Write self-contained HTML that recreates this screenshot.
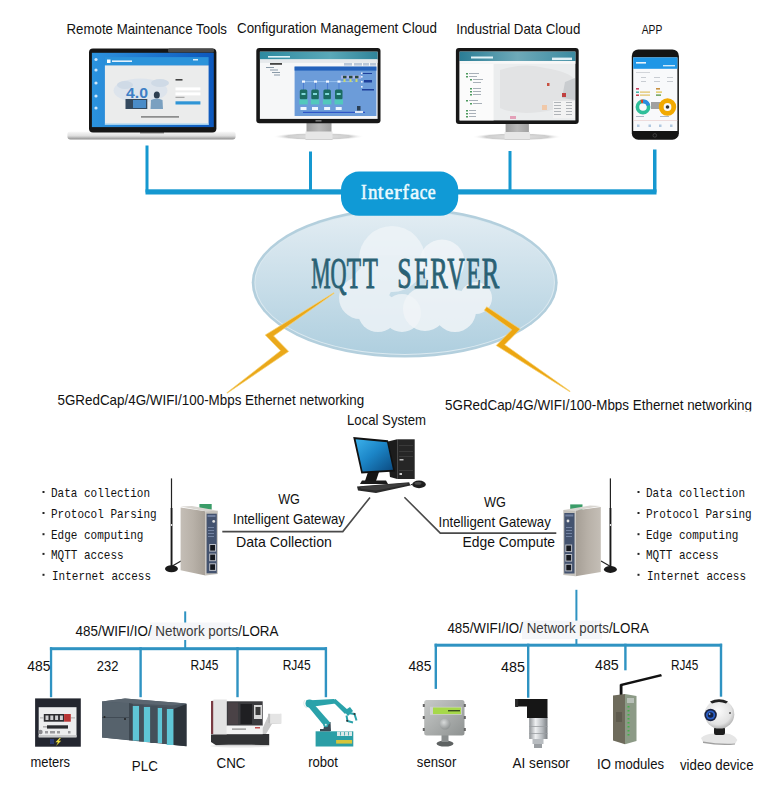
<!DOCTYPE html>
<html><head><meta charset="utf-8">
<style>
html,body{margin:0;padding:0;background:#fff;}
body{width:781px;height:785px;overflow:hidden;position:relative;font-family:"Liberation Sans",sans-serif;}
svg{position:absolute;left:0;top:0;}
.t{font-family:"Liberation Sans",sans-serif;fill:#111;}
.m{font-family:"Liberation Mono",monospace;fill:#111;}
.s{font-family:"Liberation Serif",serif;}
</style></head>
<body>
<svg width="781" height="785" viewBox="0 0 781 785">
<defs>
  <linearGradient id="ellG" x1="0" y1="0" x2="0" y2="1">
    <stop offset="0" stop-color="#e3edf3"/>
    <stop offset="0.5" stop-color="#c9dee9"/>
    <stop offset="1" stop-color="#afcfdf"/>
  </linearGradient>
  <linearGradient id="boltG" x1="0" y1="0" x2="1" y2="1">
    <stop offset="0" stop-color="#f0c060"/>
    <stop offset="1" stop-color="#e39d12"/>
  </linearGradient>

  <linearGradient id="lapScr" x1="0" y1="0" x2="1" y2="0">
    <stop offset="0" stop-color="#2a93de"/>
    <stop offset="0.15" stop-color="#2a8ad8"/>
    <stop offset="1" stop-color="#0d58bd"/>
  </linearGradient>
  <linearGradient id="silver" x1="0" y1="0" x2="0" y2="1">
    <stop offset="0" stop-color="#fafafa"/>
    <stop offset="0.55" stop-color="#dedede"/>
    <stop offset="1" stop-color="#8e8e8e"/>
  </linearGradient>
  <linearGradient id="silverH" x1="0" y1="0" x2="1" y2="0">
    <stop offset="0" stop-color="#bdbdbd"/>
    <stop offset="0.5" stop-color="#ececec"/>
    <stop offset="1" stop-color="#b5b5b5"/>
  </linearGradient>
  <linearGradient id="teal1" x1="0" y1="0" x2="1" y2="0">
    <stop offset="0" stop-color="#2d8aa0"/>
    <stop offset="0.6" stop-color="#5aa8b8"/>
    <stop offset="1" stop-color="#2f8399"/>
  </linearGradient>
  <linearGradient id="teal2" x1="0" y1="0" x2="1" y2="0">
    <stop offset="0" stop-color="#2a7d95"/>
    <stop offset="0.5" stop-color="#6ea9b8"/>
    <stop offset="1" stop-color="#3a8aa0"/>
  </linearGradient>
  <radialGradient id="standSh" cx="0.5" cy="0.5" r="0.5">
    <stop offset="0" stop-color="#e4e4e4"/>
    <stop offset="0.7" stop-color="#cdcdcd"/>
    <stop offset="1" stop-color="#ffffff" stop-opacity="0"/>
  </radialGradient>
  <linearGradient id="neckG" x1="0" y1="0" x2="1" y2="0">
    <stop offset="0" stop-color="#9c9c9c"/>
    <stop offset="0.5" stop-color="#b8b8b8"/>
    <stop offset="1" stop-color="#a0a0a0"/>
  </linearGradient>

  <linearGradient id="pcScr" x1="0" y1="0" x2="1" y2="1">
    <stop offset="0" stop-color="#3bb0ea"/>
    <stop offset="0.45" stop-color="#1c86c8"/>
    <stop offset="1" stop-color="#0b4a80"/>
  </linearGradient>
  <linearGradient id="gwSide" x1="0" y1="0" x2="1" y2="0">
    <stop offset="0" stop-color="#c4beb6"/>
    <stop offset="0.5" stop-color="#b8b1a8"/>
    <stop offset="1" stop-color="#a59e95"/>
  </linearGradient>
  <linearGradient id="gwSideR" x1="1" y1="0" x2="0" y2="0">
    <stop offset="0" stop-color="#c4beb6"/>
    <stop offset="0.5" stop-color="#b8b1a8"/>
    <stop offset="1" stop-color="#a59e95"/>
  </linearGradient>
  <linearGradient id="sensG" x1="0" y1="0" x2="1" y2="1">
    <stop offset="0" stop-color="#c8cac9"/>
    <stop offset="1" stop-color="#8e9291"/>
  </linearGradient>
  <radialGradient id="knobG" cx="0.4" cy="0.35" r="0.7">
    <stop offset="0" stop-color="#d8dada"/>
    <stop offset="1" stop-color="#8a8e8e"/>
  </radialGradient>
  <radialGradient id="camG" cx="0.45" cy="0.4" r="0.65">
    <stop offset="0" stop-color="#fbfbfb"/>
    <stop offset="0.7" stop-color="#e2e2e2"/>
    <stop offset="1" stop-color="#a8a8a8"/>
  </radialGradient>
  <linearGradient id="aiG" x1="0" y1="0" x2="1" y2="0">
    <stop offset="0" stop-color="#8e9296"/>
    <stop offset="0.35" stop-color="#eef0f2"/>
    <stop offset="0.7" stop-color="#b8bcc0"/>
    <stop offset="1" stop-color="#7c8084"/>
  </linearGradient>
</defs>

<!-- ===== TOP LABELS ===== -->
<text class="t" x="66.5" y="33.9" font-size="14.8" textLength="160.5" lengthAdjust="spacingAndGlyphs">Remote Maintenance Tools</text>
<text class="t" x="237" y="32.5" font-size="14.8" textLength="200" lengthAdjust="spacingAndGlyphs">Configuration Management Cloud</text>
<text class="t" x="456.2" y="34.2" font-size="14.8" textLength="124.2" lengthAdjust="spacingAndGlyphs">Industrial Data Cloud</text>
<text class="t" x="641.7" y="33.7" font-size="12.6" textLength="20.6" lengthAdjust="spacingAndGlyphs">APP</text>


<!-- ===== LAPTOP ===== -->
<g>
  <rect x="67.4" y="131.5" width="168.2" height="8" rx="3" fill="url(#silver)"/>
  <rect x="140" y="131.5" width="24" height="2" fill="#8a8a8a"/>
  <rect x="89" y="48.4" width="127.4" height="84" rx="4" fill="#151515"/>
  <rect x="168" y="48.6" width="46" height="4" rx="1.5" fill="#4a4a4a"/>
  <rect x="91.9" y="52.8" width="121.9" height="74.3" fill="url(#lapScr)"/>
  <rect x="104.9" y="57.1" width="103.7" height="8.3" fill="#2b93da"/>
  <rect x="104.9" y="65.4" width="103.7" height="59.5" fill="#ebecec"/>
  <rect x="104.9" y="123.5" width="103.7" height="1.4" fill="#9fd0f0"/>
  <g fill="#dde4ec"><ellipse cx="140.5" cy="90.5" rx="27" ry="12"/></g>
  <g fill="#cfdae6"><ellipse cx="125" cy="85" rx="8" ry="4"/><ellipse cx="160" cy="83" rx="9" ry="4"/></g>
  <text x="126" y="97.5" font-family="Liberation Sans" font-weight="bold" font-size="14" fill="#3d7fc6" textLength="22" lengthAdjust="spacingAndGlyphs">4.0</text>
  <rect x="125.5" y="99" width="21.8" height="10" fill="#34495e"/>
  <rect x="133" y="100" width="13" height="8" fill="#4a8cc8"/>
  <ellipse cx="156.8" cy="95" rx="3" ry="3.5" fill="#2c3e50"/>
  <path d="M150.5,109 L151,100 Q156.8,97 162.5,100 L163,109 Z" fill="#7aa0c0"/>
  <rect x="175.5" y="79" width="7" height="1.6" fill="#444"/>
  <rect x="175.5" y="87.4" width="24.9" height="3" fill="#ffffff"/>
  <rect x="175.5" y="92.4" width="24.9" height="3" fill="#ffffff"/>
  <rect x="175.5" y="96.8" width="9" height="1" fill="#999"/>
  <rect x="175.5" y="101.3" width="24.9" height="3.2" fill="#2f95d6"/>
  <rect x="141" y="116.2" width="38" height="1.4" fill="#777"/>
  <rect x="107" y="59.5" width="3.5" height="3.5" fill="#fff"/>
  <rect x="112" y="60.4" width="20" height="1.6" fill="#e3f1fb"/>
  <rect x="193" y="59" width="5" height="1.5" fill="#dceefa"/>
  <g fill="#cfe6f8">
    <circle cx="96" cy="59.5" r="1.6"/><circle cx="96" cy="70" r="1.6"/><circle cx="96" cy="83" r="1.6"/><circle cx="96" cy="96" r="1.6"/><circle cx="96" cy="108" r="1.6"/>
  </g>
</g>

<!-- ===== MONITOR 1 (config) ===== -->
<g>
  <ellipse cx="318.5" cy="136.5" rx="46" ry="3.8" fill="url(#standSh)"/>
  <rect x="306.5" y="123" width="25" height="9" fill="url(#neckG)"/>
  <rect x="305.5" y="131.5" width="27" height="8.5" fill="#e6e6e6"/>
  <rect x="305.5" y="139" width="27" height="1" fill="#cfcfcf"/>
  <rect x="256.3" y="48" width="124.2" height="75.3" rx="3" fill="#171717"/>
  <rect x="259.9" y="51.7" width="117.7" height="67.2" fill="#f6f7f8"/>
  <rect x="259.9" y="51.7" width="117.7" height="7.7" fill="url(#teal1)"/>
  <rect x="268" y="56" width="22" height="1.6" fill="#dff3f8"/>
  <rect x="260" y="59.4" width="117.6" height="3.5" fill="#e6e9ec"/>
  <rect x="294.6" y="66.6" width="81.8" height="49.4" fill="#6c9cd9"/>
  <rect x="294.6" y="66.6" width="81.8" height="4" fill="#2462bb"/>
  <g fill="#b9c7d8"><rect x="344" y="63" width="8" height="2.6"/><rect x="354" y="63" width="8" height="2.6"/><rect x="363" y="63" width="6" height="2.6"/><rect x="370" y="63" width="6" height="2.6"/></g>
  <rect x="270" y="63" width="12" height="1.8" fill="#444"/>
  <g fill="#8a9aa8"><rect x="266" y="67" width="8" height="1"/><rect x="270" y="69.5" width="8" height="1"/><rect x="272" y="72" width="8" height="1"/><rect x="274" y="74.5" width="6" height="1"/></g>
  <rect x="303" y="81.2" width="50" height="0.9" fill="#9cc4f0"/>
  <g fill="#4a7ad0"><rect x="303" y="82" width="0.9" height="8"/><rect x="315" y="82" width="0.9" height="8"/><rect x="327" y="82" width="0.9" height="8"/><rect x="338.5" y="82" width="0.9" height="8"/></g>
  <g fill="#f4f8ff"><rect x="302" y="80.5" width="3" height="2.2"/><rect x="314" y="80.5" width="3" height="2.2"/><rect x="326" y="80.5" width="3" height="2.2"/><rect x="337.5" y="80.5" width="3" height="2.2"/></g>
  <rect x="303" y="111.8" width="62" height="1.2" fill="#2f55c8"/>
  <g fill="#1b6c62">
    <rect x="299.8" y="89.6" width="7.5" height="9.8" rx="1.5"/><rect x="311.3" y="89.6" width="7.5" height="9.8" rx="1.5"/><rect x="323.4" y="89.6" width="7.5" height="9.8" rx="1.5"/><rect x="335" y="89.6" width="7.5" height="9.8" rx="1.5"/>
  </g>
  <g fill="#7fd8d8"><rect x="301.5" y="93" width="4" height="2"/><rect x="313" y="93" width="4" height="2"/><rect x="325.1" y="93" width="4" height="2"/><rect x="336.7" y="93" width="4" height="2"/></g>
  <g fill="#52c8bc">
    <rect x="299.3" y="99.4" width="8.5" height="5"/><rect x="310.8" y="99.4" width="8.5" height="5"/><rect x="322.9" y="99.4" width="8.5" height="5"/><rect x="334.5" y="99.4" width="8.5" height="5"/>
  </g>
  <g fill="#eef6ff">
    <rect x="300.5" y="107" width="6" height="3"/><rect x="312" y="107" width="6" height="3"/><rect x="324.1" y="107" width="6" height="3"/><rect x="335.7" y="107" width="6" height="3"/>
  </g>
  <rect x="341" y="75.5" width="20" height="3.2" fill="#a8b4e8"/>
  <g fill="#2c4a3c"><rect x="343" y="75.8" width="3.5" height="2.5"/><rect x="349" y="75.8" width="3.5" height="2.5"/><rect x="355" y="75.8" width="3.5" height="2.5"/></g>
  <g fill="#c8d870"><rect x="343.5" y="79" width="2" height="3"/><rect x="349.5" y="79" width="2" height="3"/><rect x="355.5" y="79" width="2" height="3"/></g>
  <g fill="#1d3f9a"><rect x="364" y="80" width="8" height="2.5"/><rect x="362" y="89" width="12" height="1.5"/><rect x="362" y="73" width="10" height="1"/></g>
  <g fill="#e8f0ff"><rect x="361" y="72.5" width="1.6" height="1.6"/><rect x="361" y="76" width="1.6" height="1.6"/><rect x="361" y="81" width="1.6" height="1.6"/><rect x="361" y="86" width="1.6" height="1.6"/></g>
  <rect x="357" y="106" width="3.5" height="4.5" fill="#2a3f55"/>
  <rect x="355" y="111" width="8" height="2" fill="#dde6f6"/>
  <rect x="315.5" y="120" width="6" height="1.6" fill="#777"/>
</g>

<!-- ===== MONITOR 2 (industrial) ===== -->
<g>
  <ellipse cx="517" cy="136.8" rx="45" ry="3.8" fill="url(#standSh)"/>
  <rect x="505.6" y="123.5" width="23.3" height="9" fill="url(#neckG)"/>
  <rect x="504.6" y="132" width="25.3" height="8" fill="#e6e6e6"/>
  <rect x="504.6" y="139" width="25.3" height="1" fill="#cfcfcf"/>
  <rect x="455.9" y="48" width="122.8" height="75.9" rx="3" fill="#171717"/>
  <rect x="459.6" y="51.6" width="115.8" height="68.8" fill="#ebedee"/>
  <rect x="459.6" y="51.6" width="115.8" height="9.4" fill="url(#teal2)"/>
  <rect x="471" y="56.5" width="22" height="2" fill="#e2f3f8"/>
  <rect x="552" y="57.6" width="20" height="2.5" fill="#e0f0f5"/>
  <rect x="459.6" y="61" width="115.8" height="2.8" fill="#f7f7f7"/>
  <rect x="459.6" y="63.8" width="34" height="56.6" fill="#fbfbfb"/>
  <g fill="#4d9a5e">
    <rect x="466" y="73" width="2" height="1.5"/><rect x="466" y="76" width="2" height="1.5"/><rect x="470" y="79" width="2" height="1.5"/><rect x="470" y="88" width="2" height="1.5"/><rect x="470" y="91" width="2" height="1.5"/><rect x="470" y="94" width="2" height="1.5"/><rect x="466" y="100" width="2" height="1.5"/><rect x="470" y="103" width="2" height="1.5"/><rect x="466" y="110" width="2" height="1.5"/><rect x="466" y="113" width="2" height="1.5"/><rect x="466" y="116" width="2" height="1.5"/>
  </g>
  <g fill="#a8b0b8">
    <rect x="469" y="73" width="10" height="1"/><rect x="469" y="76" width="8" height="1"/><rect x="473" y="79" width="10" height="1"/><rect x="473" y="82" width="8" height="1"/><rect x="473" y="88" width="8" height="1"/><rect x="473" y="91" width="8" height="1"/><rect x="473" y="94" width="8" height="1"/><rect x="469" y="100" width="9" height="1"/><rect x="473" y="103" width="9" height="1"/><rect x="469" y="110" width="7" height="1"/><rect x="469" y="113" width="7" height="1"/><rect x="469" y="116" width="7" height="1"/>
  </g>
  <path d="M500,70 Q525,62 545,68 Q570,72 575,80 L575,100 Q560,110 540,112 Q515,115 500,108 Z" fill="#e2e3e4"/>
  <path d="M565,82 L575,78 L575,100 L562,98 Z" fill="#c9cccf"/>
  <rect x="547" y="83" width="2.5" height="3" fill="#c85040"/>
  <rect x="562" y="93" width="4" height="4" fill="#c04040"/>
  <rect x="553" y="101" width="22" height="17" fill="#f3f3f3"/>
  <g fill="#b0b4b8"><rect x="554" y="102" width="7" height="1"/><rect x="566" y="102" width="6" height="1"/><rect x="554" y="105" width="7" height="1"/><rect x="566" y="105" width="6" height="1"/><rect x="554" y="108" width="7" height="1"/><rect x="566" y="108" width="6" height="1"/><rect x="554" y="111" width="7" height="1"/><rect x="566" y="111" width="6" height="1"/><rect x="554" y="114" width="7" height="1"/><rect x="566" y="114" width="6" height="1"/></g>
  <rect x="510" y="116" width="6" height="3" fill="#e3a0b8"/>
  <rect x="542" y="105" width="5" height="5" fill="#f0c8a8"/>
</g>

<!-- ===== PHONE ===== -->
<g>
  <rect x="631.8" y="49.4" width="47.1" height="90.3" rx="6.5" fill="#141414"/>
  <rect x="633.2" y="57.4" width="44.2" height="73.6" fill="#f8f9fb"/>
  <rect x="633.2" y="57.4" width="44.2" height="11.4" fill="#1f96e6"/>
  <rect x="636" y="62" width="10" height="1.6" fill="#e8f4fc"/>
  <rect x="663" y="65" width="12" height="1.4" fill="#cfe8f8"/>
  <g fill="#c8ccd2"><rect x="636" y="72" width="14" height="0.8"/><rect x="641" y="77" width="5" height="1"/><rect x="654" y="77" width="6" height="1"/><rect x="667" y="77" width="6" height="1"/><rect x="641" y="81" width="5" height="1"/><rect x="654" y="81" width="6" height="1"/><rect x="667" y="81" width="6" height="1"/></g>
  <g><rect x="636" y="88" width="3" height="1.6" fill="#c84060"/><rect x="656" y="88" width="4" height="1.6" fill="#c89040"/>
  <rect x="636" y="91.5" width="3" height="1.4" fill="#30b0a0"/><rect x="640" y="91.5" width="10" height="1.2" fill="#e0c060"/><rect x="656" y="91.5" width="6" height="1.2" fill="#e0c040"/>
  <rect x="636" y="94.5" width="3" height="1.4" fill="#c03040"/><rect x="640" y="94.5" width="10" height="1.2" fill="#e0c060"/><rect x="656" y="94.5" width="5" height="1.2" fill="#4a8a30"/></g>
  <circle cx="643" cy="107" r="5.6" fill="none" stroke="#2fbf9a" stroke-width="3.6"/>
  <path d="M643,101.4 A5.6,5.6 0 0 1 648.4,105.5" fill="none" stroke="#2a8de0" stroke-width="3.6"/>
  <path d="M641,101.6 A5.6,5.6 0 0 1 643,101.4" fill="none" stroke="#e04020" stroke-width="3.6"/>
  <rect x="651" y="102" width="10" height="7" fill="#8a8a8a" opacity="0.8"/>
  <circle cx="667.5" cy="107" r="6.3" fill="none" stroke="#f2a900" stroke-width="4.8"/>
  <circle cx="667.5" cy="107" r="1.8" fill="#333"/>
  <g fill="#9aa8b8"><rect x="636" y="116" width="8" height="0.8"/><rect x="660" y="116" width="9" height="0.8"/></g>
  <rect x="633.2" y="120" width="44.2" height="0.6" fill="#e8c8c8"/>
  <g fill="#b0c8e0"><rect x="637" y="124.5" width="2.5" height="2.5"/><rect x="648.5" y="124.5" width="2.5" height="2.5"/><rect x="659" y="124.5" width="2.5" height="2.5"/><rect x="670" y="124.5" width="2.5" height="2.5"/></g>
  <circle cx="654.8" cy="135.4" r="1.8" fill="none" stroke="#555" stroke-width="0.6"/>
</g>

<!-- ===== TOP CONNECTOR LINES ===== -->
<g fill="#1598d0">
  <rect x="145.5" y="145.5" width="3" height="47"/>
  <rect x="309" y="151.5" width="3" height="41"/>
  <rect x="508.5" y="151" width="3" height="41"/>
  <rect x="653" y="149.5" width="3.5" height="43"/>
  <rect x="145.5" y="189.3" width="511" height="5.2"/>
</g>

<!-- ===== MQTT ELLIPSE ===== -->
<ellipse cx="404.7" cy="282.6" rx="153" ry="75" fill="#b3cfdd"/>
<ellipse cx="404.7" cy="282.6" rx="150.3" ry="72.3" fill="#dbe9f0"/>
<ellipse cx="404.7" cy="282.6" rx="149.3" ry="71.3" fill="url(#ellG)"/>

<!-- ===== INTERFACE PILL ===== -->
<rect x="341" y="171.6" width="117.2" height="44.2" rx="18" fill="#109ad6"/>

<!-- ===== CLOUDS ===== -->
<g fill="#edf3f7" opacity="0.85">
  <circle cx="392" cy="259" r="33"/>
  <circle cx="360" cy="298" r="21"/>
  <circle cx="378" cy="312" r="20"/>
  <circle cx="402" cy="313" r="19"/>
  <circle cx="372" cy="285" r="20"/>
</g>
<g fill="#f1f5f8" opacity="0.85">
  <circle cx="442" cy="262" r="22.5"/>
  <circle cx="425" cy="309" r="22"/>
  <circle cx="455" cy="311" r="21"/>
  <circle cx="476" cy="298" r="16"/>
  <circle cx="440" cy="290" r="16"/>
</g>
<g class="s" font-size="45" fill="#2a6174" stroke="#2a6174" stroke-width="1"><text x="311.3" y="287.8" textLength="19.4" lengthAdjust="spacingAndGlyphs">M</text><text x="330.6" y="287.8" textLength="16.0" lengthAdjust="spacingAndGlyphs">Q</text><text x="346.8" y="287.8" textLength="14.3" lengthAdjust="spacingAndGlyphs">T</text><text x="362.7" y="287.8" textLength="15.1" lengthAdjust="spacingAndGlyphs">T</text><text x="397.3" y="287.8" textLength="14.5" lengthAdjust="spacingAndGlyphs">S</text><text x="414.2" y="287.8" textLength="14.5" lengthAdjust="spacingAndGlyphs">E</text><text x="430.3" y="287.8" textLength="17.5" lengthAdjust="spacingAndGlyphs">R</text><text x="447.2" y="287.8" textLength="17.5" lengthAdjust="spacingAndGlyphs">V</text><text x="466.3" y="287.8" textLength="14.5" lengthAdjust="spacingAndGlyphs">E</text><text x="481.7" y="287.8" textLength="17.5" lengthAdjust="spacingAndGlyphs">R</text></g>
<g class="s" font-size="20.5" fill="#eafaff" stroke="#eafaff" stroke-width="0.55"><text x="361.0" y="199.3" textLength="5.7" lengthAdjust="spacingAndGlyphs">I</text><text x="367.9" y="199.3" textLength="9.5" lengthAdjust="spacingAndGlyphs">n</text><text x="377.7" y="199.3" textLength="5.7" lengthAdjust="spacingAndGlyphs">t</text><text x="384.8" y="199.3" textLength="8.6" lengthAdjust="spacingAndGlyphs">e</text><text x="393.9" y="199.3" textLength="7.6" lengthAdjust="spacingAndGlyphs">r</text><text x="402.5" y="199.3" textLength="6.4" lengthAdjust="spacingAndGlyphs">f</text><text x="410.1" y="199.3" textLength="9.4" lengthAdjust="spacingAndGlyphs">a</text><text x="419.8" y="199.3" textLength="7.6" lengthAdjust="spacingAndGlyphs">c</text><text x="427.8" y="199.3" textLength="7.9" lengthAdjust="spacingAndGlyphs">e</text></g>

<!-- ===== BOLTS ===== -->
<polygon points="333.8,292.7 265.2,335.0 280.5,350.7 226.8,392.8 227.2,393.2 288.7,351.4 273.6,335.9 334.2,293.3" fill="#eaa81a" stroke="#f6d47a" stroke-width="0.7" stroke-linejoin="miter"/>
<polygon points="484.3,310.2 511.8,329.8 496.2,345.5 569.8,391.7 570.2,391.3 504.7,344.7 520.2,329.1 486.7,306.8" fill="#eca612" stroke="#f6d47a" stroke-width="0.7" stroke-linejoin="miter"/>

<!-- ===== MID TEXT ===== -->
<text class="t" x="57.5" y="405.2" font-size="14.1" textLength="306.7" lengthAdjust="spacingAndGlyphs">5GRedCap/4G/WIFI/100-Mbps Ethernet networking</text>
<svg x="0" y="0" width="781" height="411.5" overflow="hidden"><text class="t" x="445" y="410" font-size="14.1" textLength="307" lengthAdjust="spacingAndGlyphs">5GRedCap/4G/WIFI/100-Mbps Ethernet networking</text></svg>
<text class="t" x="347" y="424.8" font-size="14.1" textLength="79" lengthAdjust="spacingAndGlyphs">Local System</text>

<text class="t" x="278.2" y="503.9" font-size="14.1" textLength="21.7" lengthAdjust="spacingAndGlyphs">WG</text>
<text class="t" x="233" y="523.6" font-size="14.1" textLength="111.8" lengthAdjust="spacingAndGlyphs">Intelligent Gateway</text>
<text class="t" x="236" y="546.6" font-size="14.1" textLength="95.9" lengthAdjust="spacingAndGlyphs">Data Collection</text>
<text class="t" x="484.1" y="507.1" font-size="14.1" textLength="21.9" lengthAdjust="spacingAndGlyphs">WG</text>
<text class="t" x="438.6" y="527.2" font-size="14.1" textLength="112.2" lengthAdjust="spacingAndGlyphs">Intelligent Gateway</text>
<text class="t" x="462.5" y="546.8" font-size="14.1" textLength="92.6" lengthAdjust="spacingAndGlyphs">Edge Compute</text>

<!-- gateway connection lines -->
<polyline points="222.3,531.6 342.8,531.6 370,497.4" fill="none" stroke="#4a4a4a" stroke-width="1.6"/>
<polyline points="404.4,497.2 440.3,533.1 556.3,533.1" fill="none" stroke="#4a4a4a" stroke-width="1.6"/>

<!-- ===== BULLET LISTS ===== -->
<g class="m" font-size="13">
  <text class="m" x="51" y="497" textLength="99" lengthAdjust="spacingAndGlyphs">Data collection</text>
  <text class="m" x="51" y="518" textLength="105.6" lengthAdjust="spacingAndGlyphs">Protocol Parsing</text>
  <text class="m" x="51" y="539.2" textLength="92.4" lengthAdjust="spacingAndGlyphs">Edge computing</text>
  <text class="m" x="51" y="558.9" textLength="72.6" lengthAdjust="spacingAndGlyphs">MQTT access</text>
  <text class="m" x="52" y="579.8" textLength="99" lengthAdjust="spacingAndGlyphs">Internet access</text>
  <text class="m" x="646" y="497" textLength="99" lengthAdjust="spacingAndGlyphs">Data collection</text>
  <text class="m" x="646" y="518" textLength="105.6" lengthAdjust="spacingAndGlyphs">Protocol Parsing</text>
  <text class="m" x="646" y="539.2" textLength="92.4" lengthAdjust="spacingAndGlyphs">Edge computing</text>
  <text class="m" x="646" y="558.9" textLength="72.6" lengthAdjust="spacingAndGlyphs">MQTT access</text>
  <text class="m" x="647" y="579.8" textLength="99" lengthAdjust="spacingAndGlyphs">Internet access</text>
</g>
<g fill="#222">
  <rect x="42.5" y="491.0" width="2" height="2"/>
  <rect x="42.5" y="512.0" width="2" height="2"/>
  <rect x="42.5" y="533.2" width="2" height="2"/>
  <rect x="42.5" y="552.9" width="2" height="2"/>
  <rect x="42.5" y="573.8" width="2" height="2"/>
  <rect x="637.5" y="491.0" width="2" height="2"/>
  <rect x="637.5" y="512.0" width="2" height="2"/>
  <rect x="637.5" y="533.2" width="2" height="2"/>
  <rect x="637.5" y="552.9" width="2" height="2"/>
  <rect x="637.5" y="573.8" width="2" height="2"/>
</g>


<!-- ===== LOCAL SYSTEM PC ===== -->
<g>
  <polygon points="386,442 397.2,439.3 397.2,479 390,477" fill="#1c1c1c"/>
  <rect x="397.2" y="439.3" width="17.5" height="39.7" fill="#262626"/>
  <g fill="#3a3a3a"><rect x="399" y="445" width="14" height="1"/><rect x="399" y="451" width="14" height="1"/><rect x="399" y="456" width="14" height="1"/><rect x="399" y="470" width="14" height="1"/></g>
  <rect x="399.5" y="459" width="4" height="1.5" fill="#bbb"/>
  <rect x="399.5" y="473" width="2.5" height="2" fill="#ccc"/>
  <polygon points="368,472 379,472 376,481 365,481" fill="#151515"/>
  <polygon points="362,480.5 386,480.5 388,484 360,484" fill="#1a1a1a"/>
  <polygon points="353.2,437.1 388,440.3 395.1,471.4 361.3,473.5" fill="#111"/>
  <polygon points="355.6,439.3 387,442.2 393,469.8 362.6,471.5" fill="url(#pcScr)"/>
  <polygon points="357,486.6 409.2,482.2 410.3,485.5 376,493.1 358,490.5" fill="#2a2a2a"/>
  <polygon points="360,486.8 407,483 408,484.6 376,490.5 361,488.8" fill="#3d3d3d"/>
  <ellipse cx="419" cy="484.4" rx="6.8" ry="3.8" fill="#1e1e1e"/>
  <ellipse cx="418" cy="483.3" rx="3.5" ry="1.5" fill="#4a4a4a"/>
  <path d="M410.5,485 Q413,484 412.5,484" stroke="#222" fill="none" stroke-width="1"/>
</g>

<!-- ===== LEFT GATEWAY ===== -->
<g>
  <path d="M166,570 Q172,566 181,561" stroke="#222" stroke-width="1.2" fill="none"/>
  <ellipse cx="171.5" cy="568.8" rx="6.5" ry="3.5" fill="#1a1a1a"/>
  <rect x="170.9" y="478.4" width="1.2" height="30" fill="#222"/>
  <rect x="170.6" y="508" width="1.9" height="60" fill="#1a1a1a"/>
  <rect x="170.9" y="524" width="1.3" height="2" fill="#ddd"/>
  <polygon points="199.4,504 211.7,504 211.7,509.7 199.4,509.7" fill="#3a9c68"/>
  <polygon points="180.6,507.6 205.5,511.2 205.5,575.4 180.6,570.3" fill="url(#gwSide)"/>
  <polygon points="180.6,506.5 192,506 217.8,510.7 205.5,511.2" fill="#d8d5d0"/>
  <polygon points="205.5,511.2 217.8,510.7 217.8,574 205.5,575.4" fill="#c5c2bc"/>
  <rect x="206.6" y="513.7" width="10.2" height="59.6" fill="#44536f"/>
  <rect x="207.5" y="515" width="8" height="2" fill="#7080a0"/>
  <circle cx="213.7" cy="521.4" r="1.4" fill="#e0e0e0"/>
  <g fill="#8090b0"><rect x="208" y="527" width="6" height="0.8"/><rect x="208" y="530" width="6" height="0.8"/><rect x="208" y="533" width="6" height="0.8"/><rect x="208" y="536" width="6" height="0.8"/></g>
  <g fill="#b8bcc4"><rect x="209.2" y="544" width="6.8" height="7.6"/><rect x="209.2" y="553.6" width="6.8" height="7.6"/><rect x="209.2" y="563.3" width="6.8" height="7.6"/></g>
  <g fill="#15181e"><rect x="210.2" y="545" width="4.8" height="5.6"/><rect x="210.2" y="554.6" width="4.8" height="5.6"/><rect x="210.2" y="564.3" width="4.8" height="5.6"/></g>
</g>

<!-- ===== RIGHT GATEWAY ===== -->
<g>
  <path d="M616,570 Q610,566 601,561" stroke="#222" stroke-width="1.2" fill="none"/>
  <ellipse cx="610.4" cy="569.4" rx="6.5" ry="3.5" fill="#1a1a1a"/>
  <rect x="609.8" y="478.4" width="1.2" height="30" fill="#222"/>
  <rect x="609.5" y="508" width="1.9" height="60" fill="#1a1a1a"/>
  <rect x="609.8" y="524" width="1.3" height="2" fill="#ddd"/>
  <polygon points="570.2,504.4 582.5,504.4 582.5,509.8 570.2,509.8" fill="#3a9c68"/>
  <polygon points="575.6,510.5 600.8,506.9 600.8,572 575.6,576.3" fill="url(#gwSideR)"/>
  <polygon points="563.3,510 590,505.5 600.8,506 575.6,510.5" fill="#d8d5d0"/>
  <polygon points="563.3,510 575.6,510.5 575.6,576.3 563.3,575" fill="#c5c2bc"/>
  <rect x="564.3" y="513" width="10.2" height="60.5" fill="#44536f"/>
  <rect x="565.3" y="514.5" width="8" height="2" fill="#7080a0"/>
  <circle cx="568" cy="521" r="1.4" fill="#e0e0e0"/>
  <g fill="#8090b0"><rect x="566" y="527" width="6" height="0.8"/><rect x="566" y="530" width="6" height="0.8"/><rect x="566" y="533" width="6" height="0.8"/><rect x="566" y="536" width="6" height="0.8"/></g>
  <g fill="#b8bcc4"><rect x="565.3" y="544.5" width="6.8" height="7.6"/><rect x="565.3" y="554" width="6.8" height="7.6"/><rect x="565.3" y="563.8" width="6.8" height="7.6"/></g>
  <g fill="#15181e"><rect x="566.3" y="545.5" width="4.8" height="5.6"/><rect x="566.3" y="555" width="4.8" height="5.6"/><rect x="566.3" y="564.8" width="4.8" height="5.6"/></g>
</g>

<!-- ===== METER ===== -->
<g>
  <rect x="35.1" y="698.4" width="45.7" height="48.3" fill="#23262f"/>
  <rect x="38.7" y="707.2" width="37.8" height="30.1" fill="#ecedee"/>
  <rect x="38.7" y="735" width="37.8" height="2.3" fill="#c8c9cb"/>
  <rect x="43.8" y="714" width="20.3" height="7.7" fill="#2c2c30"/>
  <rect x="64.1" y="714" width="6.7" height="7.7" fill="#b83434"/>
  <g fill="#cfcfd2"><rect x="45.5" y="715.5" width="3" height="4.5"/><rect x="50.3" y="715.5" width="3" height="4.5"/><rect x="55.1" y="715.5" width="3" height="4.5"/><rect x="59.9" y="715.5" width="3" height="4.5"/></g>
  <rect x="40" y="717.5" width="3.5" height="0.8" fill="#999"/>
  <rect x="71" y="717.5" width="4" height="0.8" fill="#999"/>
  <rect x="47" y="725.3" width="21" height="3.3" fill="#2a2c30"/>
  <rect x="43" y="726.5" width="4" height="0.8" fill="#777"/>
  <circle cx="40.5" cy="732" r="2.2" fill="#8a8a8e"/>
  <g fill="#9a9a9e"><rect x="45" y="731" width="3" height="2.5"/><rect x="50" y="731" width="5" height="2.5"/><rect x="57" y="731" width="3" height="2.5"/><rect x="68" y="731" width="2.5" height="2.5"/></g>
  <rect x="50" y="739" width="4" height="5" fill="#2a3a70"/>
  <polygon points="59.5,738 55.5,742.2 58,742.2 56,746 61.2,740.8 58.6,740.8 61,738" fill="#f0e040"/>
</g>

<!-- ===== PLC ===== -->
<g>
  <polygon points="102,701.5 125,698.5 186.5,703.5 186.5,746.3 102,737.4" fill="#4b5660"/>
  <polygon points="102,701.5 125,698.5 186.5,703.5 172,705.5 130,703.5" fill="#5b6670"/>
  <polygon points="102,701.5 129,703 129,740 102,737.4" fill="#56626c"/>
  <polygon points="129,703 132.8,704 132.8,740.6 129,740.2" fill="#3d4750"/>
  <polygon points="173.4,709 186.5,704 186.5,746.3 173.4,745" fill="#2c333a"/>
  <rect x="102" y="717" width="27" height="0.8" fill="#3d4750"/>
  <circle cx="104.5" cy="717" r="1" fill="#222"/>
  <circle cx="125" cy="719" r="1" fill="#222"/>
  <g fill="#5fc6d6">
    <rect x="132.8" y="706" width="6.4" height="34.6"/>
    <rect x="143.7" y="707" width="6.6" height="35"/>
    <rect x="157.5" y="708" width="4.7" height="35"/>
    <rect x="166.7" y="709" width="6.7" height="36"/>
  </g>
  <g fill="#44505a"><rect x="139.2" y="705" width="4.5" height="36.5"/><rect x="150.3" y="706" width="7.2" height="37"/><rect x="162.2" y="707" width="4.5" height="37"/></g>
</g>

<!-- ===== CNC ===== -->
<g>
  <polygon points="211,734 269.2,734 269.2,745.3 216,745.3 211,742" fill="#323335"/>
  <polygon points="211,701 214,699.6 226.8,699.6 226.8,734.4 211,734.4" fill="#e3e3e3"/>
  <rect x="211" y="701" width="2.2" height="33" fill="#7a3c44"/>
  <rect x="226.8" y="701.3" width="35.9" height="24.4" fill="#3b3b3e"/>
  <rect x="228" y="702.5" width="10" height="22" fill="#4a4246"/>
  <rect x="240.5" y="704" width="11.5" height="20" fill="#1f1f22"/>
  <rect x="254" y="705" width="8" height="14" fill="#d8d8d8"/>
  <rect x="255.5" y="707" width="5" height="8" fill="#3a3a3a"/>
  <rect x="226.8" y="725.7" width="35.9" height="8.5" fill="#f3f3f3"/>
  <rect x="232" y="728.5" width="14" height="1.2" fill="#888"/>
  <rect x="255" y="727" width="5" height="1.5" fill="#c05050"/>
  <polygon points="262.7,728 268.1,716 281.2,713.8 281.2,723.6 272,724 266,734 262.7,734" fill="#c8c8c8"/>
  <rect x="268.1" y="713.8" width="13.1" height="9.8" fill="#e4e4e4"/>
  <rect x="268.1" y="713.8" width="2" height="9.8" fill="#bcbcbc"/>
  <ellipse cx="240" cy="746" rx="30" ry="1.5" fill="#d8d8d8" opacity="0.6"/>
</g>

<!-- ===== ROBOT ===== -->
<g>
  <rect x="315.6" y="731.3" width="37.7" height="15.2" fill="#2b9ea6"/>
  <rect x="337" y="731.5" width="15" height="4.5" fill="#dde8e8"/>
  <g fill="#2b9ea6"><rect x="340" y="732" width="0.8" height="3.5"/><rect x="344" y="732" width="0.8" height="3.5"/><rect x="348" y="732" width="0.8" height="3.5"/></g>
  <rect x="336.1" y="740" width="16" height="3.6" fill="#d6c53a"/>
  <polygon points="320,729 330,729 330,731.3 320,731.3" fill="#3a4a55"/>
  <polygon points="323,731 331,731 330.5,722 325,722" fill="#3a4a55"/>
  <polygon points="306.5,704.5 312,702 330.5,723 325,727" fill="#2aa2aa"/>
  <polygon points="306,700.5 334,699 335.5,703.5 310,707" fill="#2aa2aa"/>
  <polygon points="331.5,700.5 335.5,699 348.5,710.5 345,714" fill="#2aa2aa"/>
  <circle cx="309.5" cy="703.5" r="4" fill="#2aa2aa"/>
  <path d="M305,700 A5,5 0 0 0 307,708" stroke="#e0e8e8" stroke-width="1" fill="none"/>
  <circle cx="325.8" cy="724.8" r="2.5" fill="#2aa2aa"/>
  <circle cx="325.8" cy="724.8" r="1" fill="#e0eeee"/>
  <polygon points="344,711 350,707 353,711 348,716" fill="#2aa2aa"/>
  <path d="M348,713 L354.5,714 L356.5,720.5" stroke="#2aa2aa" stroke-width="2" fill="none"/>
  <path d="M346.5,715.5 L347.5,721 L353,722.5" stroke="#2aa2aa" stroke-width="2" fill="none"/>
  <circle cx="354.5" cy="714" r="1" fill="#333"/>
  <circle cx="347.2" cy="720.8" r="1" fill="#333"/>
</g>

<!-- ===== SENSOR ===== -->
<g>
  <ellipse cx="445" cy="743.6" rx="8.5" ry="3" fill="#5e6262"/>
  <rect x="441.5" y="734" width="7" height="8" fill="#8a8e8e"/>
  <rect x="424.2" y="700" width="40.3" height="35.6" rx="2.5" fill="url(#sensG)"/>
  <rect x="422.8" y="704" width="2" height="3" fill="#666"/><rect x="422.8" y="716" width="2" height="3" fill="#666"/><rect x="422.8" y="728" width="2" height="3" fill="#666"/>
  <rect x="463.8" y="704" width="2" height="3" fill="#666"/><rect x="463.8" y="716" width="2" height="3" fill="#666"/><rect x="463.8" y="728" width="2" height="3" fill="#666"/>
  <rect x="430" y="706.8" width="31.8" height="8.1" fill="#cfd0cf"/>
  <rect x="433" y="707.5" width="28" height="6.6" fill="#a6d84a"/>
  <rect x="448" y="710" width="12" height="1.4" fill="#3a5020"/>
  <circle cx="445" cy="724.1" r="5.5" fill="url(#knobG)"/>
</g>

<!-- ===== AI SENSOR ===== -->
<g>
  <rect x="532.5" y="738" width="11" height="6" fill="#b8bcc0"/>
  <rect x="534" y="744" width="8" height="4" fill="#9a9ea2"/>
  <rect x="529.2" y="717" width="18.3" height="22" fill="url(#aiG)"/>
  <g fill="#9a9ea2"><rect x="529.2" y="726" width="18.3" height="0.8"/><rect x="529.2" y="733" width="18.3" height="0.8"/></g>
  <rect x="527" y="699" width="20.5" height="19" fill="#161616"/>
  <rect x="515.2" y="699" width="13" height="7.5" fill="#161616"/>
  <rect x="515.2" y="699" width="3" height="8" fill="#2a2a2a"/>
</g>

<!-- ===== IO MODULE ===== -->
<g>
  <polygon points="620,684 661,674 662,676.2 621,686.3" fill="#111"/>
  <rect x="619.7" y="684.5" width="2.8" height="11" fill="#111"/>
  <polygon points="613,695.5 625,694 625,744.2 613,740.5" fill="#6e6b5c"/>
  <polygon points="625,694 636.5,696 636.5,741 625,744.2" fill="#8c9a86"/>
  <rect x="627" y="698" width="7" height="5" fill="#b8c0b8"/>
  <g fill="#42b048"><rect x="627.5" y="706" width="2" height="1.5"/><rect x="627.5" y="710" width="2" height="1.5"/><rect x="627.5" y="714" width="2" height="1.5"/><rect x="627.5" y="718" width="2" height="1.5"/><rect x="627.5" y="722" width="2" height="1.5"/><rect x="627.5" y="726" width="2" height="1.5"/><rect x="627.5" y="730" width="2" height="1.5"/><rect x="627.5" y="734" width="2" height="1.5"/></g>
  <rect x="616" y="712" width="6" height="10" fill="#5e5b4e"/>
</g>

<!-- ===== WEBCAM ===== -->
<g>
  <path d="M701,738 Q706,733 716,733.5 L726,733.5 Q734,734 737.3,740 L735,744 Q720,745 703,742 Z" fill="#e6e6e6"/>
  <path d="M703,741.5 Q720,744.5 735,743.5 L735,744.5 Q720,746 703,743 Z" fill="#a0a0a0"/>
  <rect x="714" y="727" width="11" height="8" rx="2" fill="#1e1e1e"/>
  <ellipse cx="719.5" cy="714.2" rx="14.8" ry="14.4" fill="url(#camG)"/>
  <path d="M710,701.5 Q719,697 728,701.5 L726,703.5 Q719,700.5 712,703.5 Z" fill="#222"/>
  <circle cx="710.6" cy="715" r="6.2" fill="#1a2240"/>
  <circle cx="710.6" cy="715" r="4.6" fill="#2a5fc8"/>
  <circle cx="710.6" cy="715" r="2.8" fill="#152040"/>
  <circle cx="709.6" cy="714" r="0.9" fill="#8ab0f0"/>
  <circle cx="730" cy="713" r="1" fill="#555"/>
</g>

<!-- ===== BOTTOM BUSES ===== -->
<g fill="#2f93c2">
  <rect x="184.2" y="611.4" width="2" height="38"/>
  <rect x="49.9" y="647.2" width="277.1" height="3"/>
  <rect x="49.9" y="647.2" width="2.3" height="50"/>
  <rect x="139.4" y="647.2" width="2.4" height="50"/>
  <rect x="236.3" y="647.2" width="2.4" height="50"/>
  <rect x="324.7" y="647.2" width="2.4" height="50"/>

  <rect x="575.4" y="589.8" width="2" height="56"/>
  <rect x="434.6" y="643.7" width="287.5" height="3"/>
  <rect x="434.6" y="643.7" width="2.4" height="45.2"/>
  <rect x="527" y="643.7" width="2.4" height="54"/>
  <rect x="624.2" y="643.7" width="2.4" height="26.6"/>
  <rect x="719.8" y="643.7" width="2.4" height="53"/>
</g>

<!-- bus labels -->
<rect x="150" y="622.5" width="80" height="17.5" fill="#f5f6f9"/>
<rect x="522" y="620.6" width="80" height="18.5" fill="#f5f6f9"/>
<text class="t" x="75.5" y="636" font-size="14.1" textLength="203" lengthAdjust="spacingAndGlyphs">485/WIFI/IO/ <tspan fill="#3a3a3a">Network ports</tspan>/LORA</text>
<text class="t" x="447.4" y="633" font-size="14.1" textLength="201.5" lengthAdjust="spacingAndGlyphs">485/WIFI/IO/ <tspan fill="#3a3a3a">Network ports</tspan>/LORA</text>

<text class="t" x="27.2" y="670.7" font-size="14.1" textLength="23.2" lengthAdjust="spacingAndGlyphs">485</text>
<text class="t" x="96.8" y="670.7" font-size="14.1" textLength="21.6" lengthAdjust="spacingAndGlyphs">232</text>
<text class="t" x="190.5" y="670.3" font-size="14.1" textLength="28" lengthAdjust="spacingAndGlyphs">RJ45</text>
<text class="t" x="282.7" y="670.3" font-size="14.1" textLength="28" lengthAdjust="spacingAndGlyphs">RJ45</text>
<text class="t" x="408.4" y="670.6" font-size="14.1" textLength="23" lengthAdjust="spacingAndGlyphs">485</text>
<text class="t" x="501" y="671.7" font-size="14.1" textLength="23.9" lengthAdjust="spacingAndGlyphs">485</text>
<text class="t" x="595" y="670.3" font-size="14.1" textLength="23.8" lengthAdjust="spacingAndGlyphs">485</text>
<text class="t" x="670.9" y="670.3" font-size="14.1" textLength="27.5" lengthAdjust="spacingAndGlyphs">RJ45</text>

<text class="t" x="30.5" y="766.8" font-size="14.1" textLength="39.5" lengthAdjust="spacingAndGlyphs">meters</text>
<text class="t" x="131.8" y="770.9" font-size="14.1" textLength="26" lengthAdjust="spacingAndGlyphs">PLC</text>
<text class="t" x="216.5" y="767.9" font-size="14.1" textLength="29" lengthAdjust="spacingAndGlyphs">CNC</text>
<text class="t" x="308.2" y="766.8" font-size="14.1" textLength="29.8" lengthAdjust="spacingAndGlyphs">robot</text>
<text class="t" x="416.8" y="766.8" font-size="14.1" textLength="39.5" lengthAdjust="spacingAndGlyphs">sensor</text>
<text class="t" x="512.5" y="768" font-size="14.1" textLength="57.4" lengthAdjust="spacingAndGlyphs">AI sensor</text>
<text class="t" x="597" y="768.7" font-size="14.1" textLength="67.1" lengthAdjust="spacingAndGlyphs">IO modules</text>
<text class="t" x="680" y="770" font-size="14.1" textLength="73.5" lengthAdjust="spacingAndGlyphs">video device</text>

</svg>
</body></html>
